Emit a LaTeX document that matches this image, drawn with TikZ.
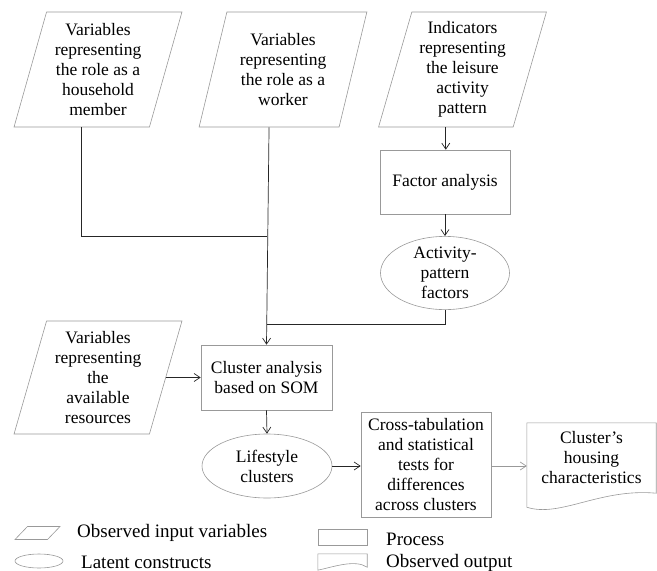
\documentclass[tikz,border=0pt]{standalone}
\usepackage{fontspec}
\setmainfont{Liberation Serif}
\usetikzlibrary{shapes.geometric,arrows.meta,positioning}
\tikzstyle{outline} = [draw=black!40, line width=0.6pt]
\tikzstyle{datain} = [outline, trapezium, trapezium left angle=73.5, trapezium right angle=106.5, trapezium stretches=true, minimum width=168pt, minimum height=115pt, inner sep=0pt, align=center]
\tikzstyle{process} = [outline, rectangle, inner sep=0pt, align=center]
\tikzstyle{latent} = [outline, ellipse, inner sep=0pt, align=center]
\tikzstyle{link} = [draw=black!85, line width=0.7pt]
\tikzstyle{arrow} = [link, -{Straight Barb[length=6pt,width=8pt]}]
\tikzstyle{keytext} = [anchor=west, inner sep=0pt, font=\fontsize{19}{22}\selectfont]

\begin{document}
\begin{tikzpicture}[x=1pt, y=-1pt, font=\fontsize{17.5}{20}\selectfont]
		\useasboundingbox (0,0) rectangle (657,571);
		% inputs
		\node[datain] (household) at (98,69.5) {Variables\\representing\\the role as a\\household\\member};
		\node[datain] (worker) at (283,69.5) {Variables\\representing\\the role as a\\worker};
		\node[datain] (leisure) at (462.5,69.5) {Indicators\\representing\\the leisure\\activity\\pattern};
		\node[datain, minimum height=113pt] (resources) at (98,377.5) {Variables\\representing\\the\\available\\resources};
		% processes and constructs
		\node[process, minimum width=130pt, minimum height=64pt] (factor) at (445,182) {Factor analysis};
		\node[latent, minimum width=129pt, minimum height=70pt] (actfactors) at (445,273) {Activity-\\pattern\\factors};
		\node[process, minimum width=131pt, minimum height=65pt] (som) at (266.5,377.5) {Cluster analysis\\based on SOM};
		\node[latent, minimum width=130pt, minimum height=64pt] (lifestyle) at (267,466) {Lifestyle\\clusters};
		\node[process, minimum width=130pt, minimum height=105pt] (crosstab) at (426,464.5) {Cross-tabulation\\and statistical\\tests for\\differences\\across clusters};
		\node[minimum width=129pt, minimum height=84pt, inner sep=0pt, align=center] (housing) at (591.5,465) {};
		\draw[outline] (housing.north west) -- (housing.north east) -- ([yshift=14pt]housing.south east) .. controls (600,488) and (560,518) .. (housing.south west) -- cycle;
		\node[align=center, inner sep=0pt] (housingtext) at (591.5,458) {Cluster’s\\housing\\characteristics};
		% connectors
		\coordinate (hhjoin) at (266.5,236);
		\coordinate (facjoin) at (266.5,324);
		\draw[link] (household.bottom side) |- (hhjoin);
		\draw[link] (actfactors.south) |- (facjoin);
		\draw[arrow] (worker.bottom side) -- (som.north);
		\draw[arrow] (leisure.bottom side) -- (leisure.bottom side |- factor.north);
		\draw[arrow] (factor.south) -- (actfactors.north);
		\draw[arrow] (resources.right side) -- (som.west);
		\draw[arrow] (som.south) -- (lifestyle.north);
		\draw[arrow] (lifestyle.east) -- (lifestyle.east -| crosstab.west);
		\draw[arrow, draw=black!40] (crosstab.east |- lifestyle.east) -- (crosstab.east |- lifestyle.east -| housing.west);
		% legend
		\node[datain, trapezium left angle=58, trapezium right angle=122, minimum width=45pt, minimum height=13pt, inner sep=1pt] (keyinput) at (37.5,533) {};
		\node[keytext] (keyinputtext) at (77,533) {Observed input variables};
		\node[latent, minimum width=48pt, minimum height=14pt] (keylatent) at (39,561) {};
		\node[keytext] (keylatenttext) at (81,562) {Latent constructs};
		\node[process, minimum width=49pt, minimum height=16pt] (keyprocess) at (342.5,537) {};
		\node[keytext] (keyprocesstext) at (386,539) {Process};
		\node[minimum width=49pt, minimum height=16pt, inner sep=0pt] (keyoutput) at (342.5,562) {};
		\draw[outline] (keyoutput.north west) -- (keyoutput.north east) -- ([yshift=3pt]keyoutput.south east) .. controls (355,559) and (333,567) .. (keyoutput.south west) -- cycle;
		\node[keytext] (keyoutputtext) at (386,563) {Observed output};
	\end{tikzpicture}
\end{document}
